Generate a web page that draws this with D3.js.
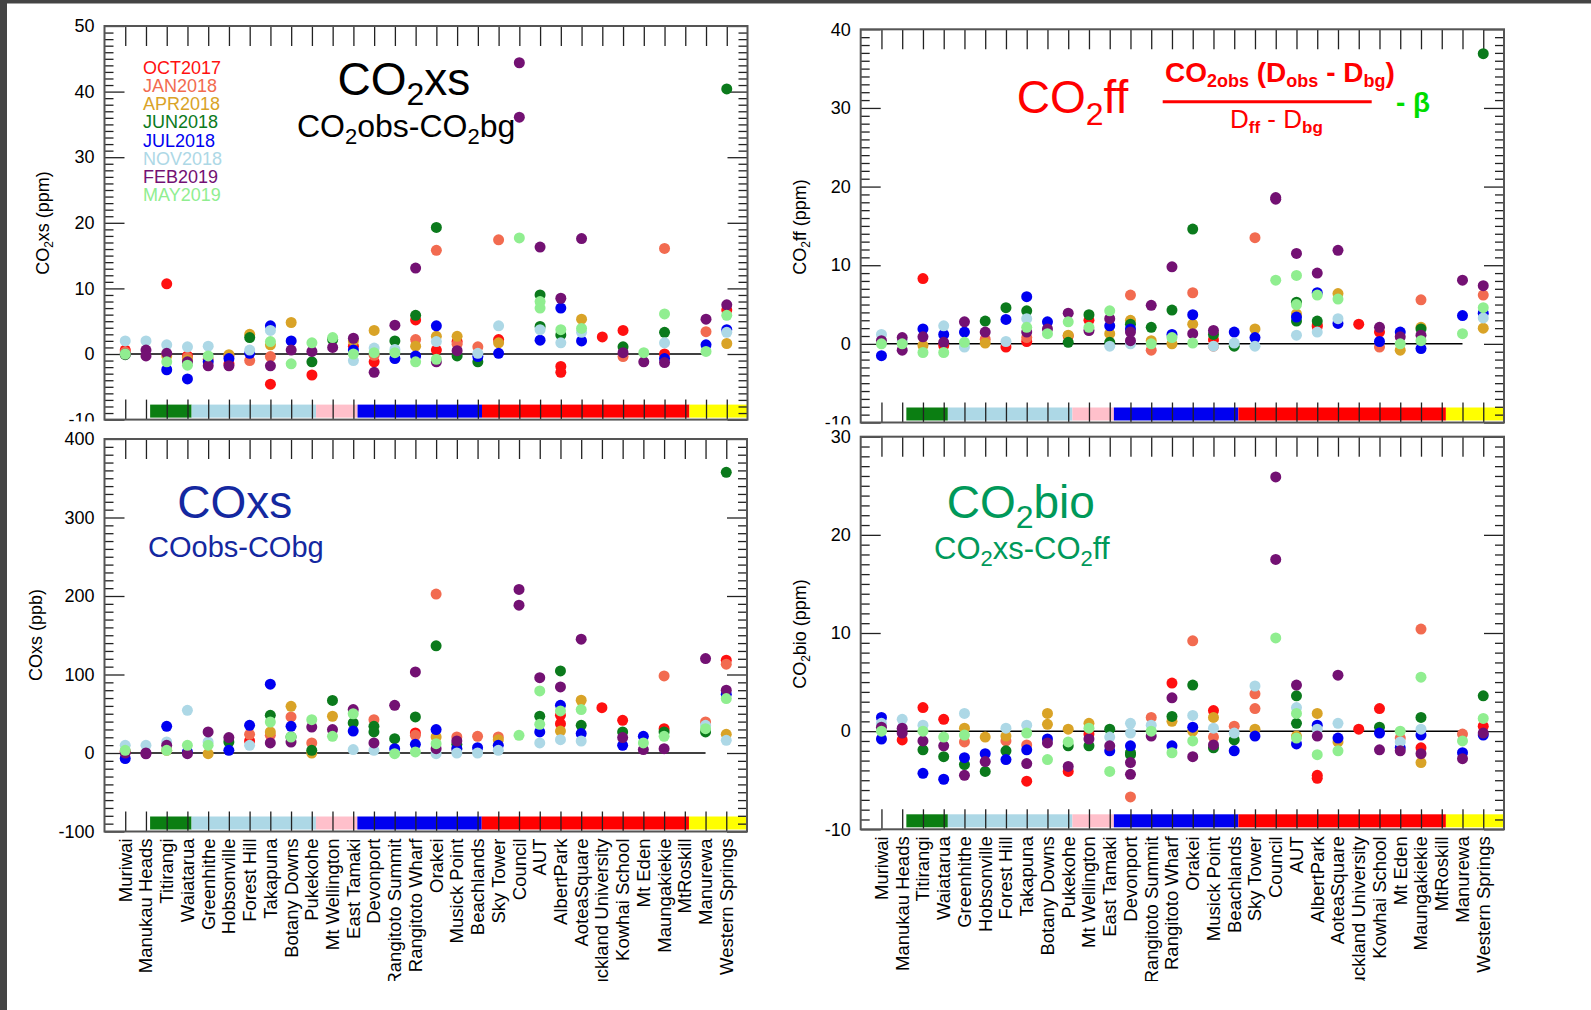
<!DOCTYPE html>
<html>
<head>
<meta charset="utf-8">
<script src="https://cdn.jsdelivr.net/npm/d3@7"></script>
<style>
  body { margin: 0; background: #fff; }
  svg { display: block; font-family: "Liberation Sans", Arial, Helvetica, sans-serif; }
</style>
</head>
<body>
<svg id="chart" width="1591" height="1010"></svg>
<script>
const _ = null;

const sites = [
  "Muriwai", "Manukau Heads", "Titirangi", "Waiatarua", "Greenhithe", "Hobsonville",
  "Forest Hill", "Takapuna", "Botany Downs", "Pukekohe", "Mt Wellington", "East Tamaki",
  "Devonport", "Rangitoto Summit", "Rangitoto Wharf", "Orakei", "Musick Point", "Beachlands",
  "Sky Tower", "Council", "AUT", "AlbertPark", "AoteaSquare", "Auckland University",
  "Kowhai School", "Mt Eden", "Maungakiekie", "MtRoskill", "Manurewa", "Western Springs"
];

const campaigns = ["OCT2017", "JAN2018", "APR2018", "JUN2018", "JUL2018", "NOV2018", "FEB2019", "MAY2019"];
const campaignColors = ["#ff1010", "#f26b50", "#d9a327", "#0b7a1c", "#0000f0", "#add8e6", "#731173", "#90ee90"];

// site groups (first and last site index) shown as the coloured strip
const siteGroups = [[2, 3], [4, 9], [10, 11], [12, 17], [18, 27], [28, 29]];
const groupColors = ["#0b7e12", "#add8e6", "#ffc0cb", "#0000f0", "#ff0000", "#ffff00"];

// CO2xs (ppm); a list in a cell = two samples in the same campaign
const co2xs = {
  OCT2017: [0.6,_,10.7,-0.3,_,-1.5,_,-4.6,_,-3.2, _,1.2,-1.2,_,5.2,0.6,1.9,_,2.2,_, _,[-1.9,-2.8],_,2.6,3.6,_,0.0,_,_,6.7],
  JAN2018: [0.3,_,_,-0.5,-0.8,-0.3,-1.0,-0.4,_,_, _,_,-0.2,_,2.2,15.8,1.5,1.1,17.4,_, _,_,_,_,-0.4,_,16.1,_,3.4,_],
  APR2018: [_,_,-0.3,-0.9,_,-0.1,3.0,1.4,4.8,_, _,2.0,3.6,_,1.2,2.7,2.7,_,1.7,_, _,_,5.3,_,_,_,_,_,_,1.6],
  JUN2018: [-0.1,_,_,_,_,_,2.5,_,_,-1.2, 2.2,_,_,2.0,5.9,19.3,-0.3,-1.2,_,_, [9.0,4.2],2.9,_,_,1.1,_,3.3,_,_,40.4],
  JUL2018: [_,_,-2.4,-3.8,-1.2,-0.7,0.1,4.3,2.0,_, _,0.6,_,-0.7,-0.3,4.3,_,-0.4,0.1,_, 2.1,7.0,2.0,_,_,_,-0.7,_,1.4,3.7],
  NOV2018: [2.0,2.0,1.4,1.1,1.2,_,0.6,3.6,_,_, _,-1.0,0.9,0.7,_,1.9,_,0.1,4.3,_, 3.7,1.7,3.3,_,_,_,1.7,_,_,3.3],
  FEB2019: [0.0,[0.6,-0.3],0.1,-1.2,-1.8,-1.8,_,-1.8,0.6,0.4, 1.0,2.4,-2.8,4.4,13.1,-1.2,0.5,_,_,[44.4,36.1], 16.3,8.5,17.6,_,0.2,-1.2,-1.3,_,5.3,7.5],
  MAY2019: [0.0,_,-1.2,-1.7,-0.3,_,_,1.9,-1.5,1.7, 2.5,0.0,0.2,0.2,-1.2,-0.8,_,_,_,17.7, [8.0,7.0],3.7,3.9,_,_,0.2,6.1,_,0.4,5.9]
};

// CO2ff (ppm)
const co2ff = {
  OCT2017: [_,_,8.3,-0.2,_,_,-0.4,0.3,_,1.0, 3.0,_,_,_,_,_,0.5,_,_,_, _,[2.4,2.2],_,2.5,1.5,_,_,_,_,_],
  JAN2018: [_,_,_,_,_,0.6,_,0.8,_,_, _,_,6.2,-0.8,_,6.5,-0.3,_,13.5,_, _,_,_,_,-0.4,_,5.6,_,_,6.2],
  APR2018: [_,_,-0.2,_,_,0.1,_,_,_,1.1, _,1.3,3.0,0.4,0.0,2.5,_,_,1.9,_, 3.8,_,6.4,_,_,-0.8,2.1,_,_,2.0],
  JUN2018: [_,_,_,_,_,2.9,4.6,4.2,_,0.2, 3.7,0.2,2.5,2.1,4.3,14.6,1.2,-0.3,_,_, [5.3,2.9],2.9,_,_,_,_,1.9,_,_,36.9],
  JUL2018: [-1.5,_,1.9,1.2,1.5,_,3.1,6.0,2.8,_, _,2.3,1.9,_,1.2,3.7,_,1.5,0.8,_, 3.4,6.5,2.6,_,0.3,1.5,-0.6,_,3.6,3.9],
  NOV2018: [1.2,0.3,_,2.3,-0.4,_,0.3,3.2,_,_, _,-0.3,0.0,_,_,_,-0.3,0.1,-0.3,_, 1.1,1.5,3.2,_,_,_,_,_,_,3.3],
  FEB2019: [0.4,[0.8,-0.8],0.9,0.2,2.8,1.5,_,1.5,1.9,3.9, 1.7,3.2,[1.5,0.4],4.9,9.8,1.3,1.7,_,_,[18.6,18.4], 11.5,9.0,11.9,_,2.1,0.9,1.1,_,8.1,7.4],
  MAY2019: [0.0,0.0,-1.1,-1.1,0.2,_,_,2.1,1.3,2.8, 2.1,4.2,_,0.0,0.8,0.1,_,_,_,8.1, [8.7,5.0],6.2,5.7,_,_,0.0,0.4,_,1.3,4.6]
};

// COxs (ppb)
const coxs = {
  OCT2017: [2,_,_,_,_,_,15.3,_,_,_, _,_,_,_,25.5,_,_,_,_,_, _,[48,37.4],_,57.8,41.7,_,31,_,_,118.2],
  JAN2018: [_,_,_,_,_,_,23.8,22.5,46,12.8, _,_,42.5,_,22.5,202.4,20.4,21.3,20.4,_, _,_,_,_,_,_,98.2,_,39.5,113.1],
  APR2018: [_,_,3.4,_,-0.9,_,_,26.8,59.5,0, 46.8,_,_,_,_,20.4,5.5,_,17,_, _,28,67.2,_,_,_,_,_,_,23.8],
  JUN2018: [_,_,_,_,_,14,_,48,20.4,3.4, 67,38.3,[34,26.8],18.3,46,136.5,11,_,_,_, 46.8,104.6,35.3,_,26.8,_,26.8,_,26.8,357.6],
  JUL2018: [-7,_,34,1.3,_,3.4,35.3,87.6,34,_, _,28,_,5.5,11,29.8,5.5,6.8,9.8,_, 26.8,60.8,24.7,_,9.8,21.3,_,_,_,74.8],
  NOV2018: [9.8,9.8,14,54.4,14,_,9.8,_,_,_, _,4.3,3.4,_,_,-0.9,0,0,3.4,_, 12.8,17,15.3,_,_,_,_,_,35.3,16.2],
  FEB2019: [0,[0,-1],9.8,-0.9,26.8,19.6,_,12.8,14,33, 29.8,55.3,12.8,60.8,103.3,5.5,15.3,_,_,[208.3,188.3], 96,84.2,145,_,19.6,4.3,5.5,_,120.3,80],
  MAY2019: [3.4,_,3.4,9.8,10,_,_,39.5,20.4,42.5, 21.3,50,_,-0.9,1.3,11.9,_,_,_,22.5, [79,36.6],53.6,55.3,_,_,12.8,21.3,_,31,69.3]
};

// CO2bio (ppm)
const co2bio = {
  OCT2017: [_,-0.9,2.4,1.2,_,_,_,-5.1,_,-4.1, -0.3,_,_,_,4.9,_,2.1,_,_,_, _,[-4.5,-4.8],_,0.2,2.3,_,-1.7,_,_,0.5],
  JAN2018: [_,_,_,_,-1.1,_,-1.0,-1.4,_,_, _,_,-6.7,1.4,_,9.2,-0.6,0.5,[3.8,2.3],_, _,_,_,_,_,-0.7,10.4,_,-0.3,_],
  APR2018: [_,_,_,_,0.3,-0.6,-0.5,_,[1.8,0.7],0.2, 0.8,_,_,_,1.0,0.0,1.4,_,0.2,_, -0.5,1.8,-1.1,_,_,_,-3.2,_,_,_],
  JUN2018: [_,_,-1.9,-2.6,-3.4,-4.1,-2.0,_,_,-1.5, -1.5,0.2,[-2.2,-2.4],_,1.5,4.7,-1.7,-0.9,_,_, [3.6,0.8],_,_,_,0.4,_,1.4,_,_,3.6],
  JUL2018: [[1.4,-0.8],_,-4.3,-4.9,-2.7,-2.3,-2.9,-1.9,-0.8,_, _,-2.0,-1.5,_,-1.5,0.4,_,-2.0,-0.5,_, -1.3,0.6,-0.7,_,-0.2,-1.7,-0.4,_,-2.2,-0.4],
  NOV2018: [0.8,1.2,0.6,_,1.8,_,0.3,0.6,_,_, _,-0.6,[0.8,-0.2],0.6,_,1.6,0.3,-0.2,4.6,_, 2.4,0.2,0.8,_,_,-1.1,0.2,_,_,_],
  FEB2019: [0.4,[0.3,-0.2],-1.0,-1.5,-4.5,-3.1,_,-3.3,-1.2,-3.6, -0.8,-1.5,[-3.2,-4.4],-0.5,3.4,-2.6,-1.4,_,_,[25.9,17.5], 4.7,-0.5,5.7,_,-1.9,-2.0,-2.3,_,-2.8,-0.2],
  MAY2019: [0.0,_,0.0,-0.6,-0.4,_,_,-0.2,-2.9,-1.1, 0.3,-4.1,_,0.0,-2.2,-1.0,_,_,_,9.5, [1.8,-0.7],-2.4,-2.0,_,_,0.0,5.5,_,-1.0,1.3]
};

const svg = d3.select("#chart");

// dark frame of the screenshot
svg.append("rect").attr("width", 1591).attr("height", 1010).attr("fill", "#444");
svg.append("rect").attr("x", 7).attr("y", 3.5).attr("width", 1584).attr("height", 1006.5).attr("fill", "#fff");

const defs = svg.append("defs");
defs.append("clipPath").attr("id", "labclip")
  .append("rect").attr("x", 0).attr("y", 0).attr("width", 1591).attr("height", 981);

// text with sub/superscript pieces: [text, fontSize, baselineOffset, weight]
function rich(parent, x, y, parts, attrs) {
  const t = parent.append("text").attr("x", x).attr("y", y).style("white-space", "pre");
  for (const k in attrs) t.attr(k, attrs[k]);
  let cur = 0;
  parts.forEach(([str, size, off = 0, weight]) => {
    const s = t.append("tspan").attr("dy", off - cur).text(str);
    if (size) s.attr("font-size", size);
    if (weight) s.attr("font-weight", weight);
    cur = off;
  });
  return t;
}

function drawPanel(p) {
  const g = svg.append("g");
  if (p.bg) {
    g.append("rect").attr("x", p.bg[0]).attr("y", p.bg[1]).attr("width", p.bg[2]).attr("height", p.bg[3]).attr("fill", "#fff");
  }
  const x = d3.scaleLinear().domain([0, sites.length + 1]).range([p.x0, p.x1]);
  const y = d3.scaleLinear().domain(p.yDomain).range([p.y1, p.y0]);
  const siteTicks = d3.range(1, sites.length + 1);

  // coloured site-type strip
  siteGroups.forEach(([a, b], k) => {
    const xa = x(a + 0.2);
    const xb = k === siteGroups.length - 1 ? x(sites.length + 1) : x(b + 1.2);
    g.append("rect")
      .attr("x", xa).attr("y", p.y1 - 15)
      .attr("width", xb - xa).attr("height", 13)
      .attr("fill", groupColors[k]);
  });

  const majors = d3.range(p.yDomain[0], p.yDomain[1] + 1e-9, p.major);
  const minors = d3.range(p.yDomain[0], p.yDomain[1] + 1e-9, p.minor)
    .filter((v) => !majors.some((m) => Math.abs(m - v) < 1e-9));

  const axes = [
    [d3.axisLeft(y).tickValues(majors).tickSize(-20).tickPadding(10).tickFormat((d) => String(d)), `translate(${p.x0},0)`],
    [d3.axisLeft(y).tickValues(minors).tickSize(-9).tickFormat(""), `translate(${p.x0},0)`],
    [d3.axisRight(y).tickValues(majors).tickSize(-20).tickFormat(""), `translate(${p.x1},0)`],
    [d3.axisRight(y).tickValues(minors).tickSize(-9).tickFormat(""), `translate(${p.x1},0)`],
    [d3.axisTop(x).tickValues(siteTicks).tickSize(-20).tickFormat(""), `translate(0,${p.y0})`],
    [d3.axisBottom(x).tickValues(siteTicks).tickSize(-20).tickFormat(""), `translate(0,${p.y1})`],
  ];
  axes.forEach(([axis, tr]) => {
    const a = g.append("g").attr("transform", tr).call(axis);
    a.select(".domain").remove();
    a.attr("font-size", 18).attr("font-family", null);
    a.selectAll("line").attr("stroke", "#222").attr("stroke-width", 1.3);
  });

  // zero line
  g.append("line")
    .attr("x1", x(1)).attr("x2", x(29))
    .attr("y1", y(0)).attr("y2", y(0))
    .attr("stroke", "#000").attr("stroke-width", 1.5);

  g.append("rect")
    .attr("x", p.x0).attr("y", p.y0)
    .attr("width", p.x1 - p.x0).attr("height", p.y1 - p.y0)
    .attr("fill", "none").attr("stroke", "#555").attr("stroke-width", 2);

  // points
  campaigns.forEach((c, k) => {
    const pts = [];
    p.values[c].forEach((v, i) => {
      if (v == null) return;
      [].concat(v).forEach((val) => pts.push({ i, val }));
    });
    g.append("g").selectAll("circle").data(pts).join("circle")
      .attr("cx", (d) => x(d.i + 1))
      .attr("cy", (d) => y(d.val))
      .attr("r", 5.5)
      .attr("fill", campaignColors[k]);
  });

  // y axis title
  rich(g, 0, 0, p.yTitle, {
    transform: `translate(${p.yTitleX},${p.yTitleY}) rotate(-90)`,
    "text-anchor": "middle", "font-size": 18, fill: "#000",
  });

  // site names below the bottom panels
  if (p.siteLabels) {
    g.append("g").attr("clip-path", "url(#labclip)")
      .selectAll("text").data(sites).join("text")
      .attr("transform", (d, i) => `translate(${x(i + 1) + 6.5},${p.y1 + 7}) rotate(-90)`)
      .attr("text-anchor", "end")
      .attr("font-size", 18.5)
      .text((d) => d);
  }
  return g;
}

// top-left: CO2xs
const p1 = drawPanel({
  x0: 104.5, x1: 747.5, y0: 26, y1: 419.6, yDomain: [-10, 50], major: 10, minor: 1,
  values: co2xs, yTitle: [["CO"], ["2", 12, 4], ["xs (ppm)", null, 0]], yTitleX: 49, yTitleY: 223,
});
p1.append("g").selectAll("text").data(campaigns).join("text")
  .attr("x", 143).attr("y", (d, i) => 74 + i * 18.14)
  .attr("font-size", 18).attr("fill", (d, i) => campaignColors[i])
  .text((d) => d);
rich(p1, 337.5, 95, [["CO"], ["2", 32, 10], ["xs", null, 0]], { "font-size": 46, fill: "#000" });
rich(p1, 297, 136.7, [["CO"], ["2", 22, 7], ["obs-CO", null, 0], ["2", 22, 7], ["bg", null, 0]], { "font-size": 32, fill: "#000" });

// top-right: CO2ff
const p2 = drawPanel({
  x0: 860.7, x1: 1504, y0: 29.3, y1: 422.5, yDomain: [-10, 40], major: 10, minor: 1,
  values: co2ff, yTitle: [["CO"], ["2", 12, 4], ["ff (ppm)", null, 0]], yTitleX: 806, yTitleY: 227,
});
rich(p2, 1016.7, 113.3, [["CO"], ["2", 32, 12], ["ff", null, 0]], { "font-size": 46, fill: "#ff0000" });
rich(p2, 1165, 81.7, [
  ["CO"], ["2obs", 18, 5], [" (D", null, 0], ["obs", 18, 5], [" - D", null, 0], ["bg", 18, 5], [")", null, 0],
], { "font-size": 28, "font-weight": "bold", fill: "#ff0000" });
p2.append("line").attr("x1", 1162.7).attr("x2", 1371.7).attr("y1", 101.7).attr("y2", 101.7)
  .attr("stroke", "#ff0000").attr("stroke-width", 3);
rich(p2, 1230, 128, [["D"], ["ff", 17, 5, "bold"], [" - D", null, 0], ["bg", 17, 5, "bold"]],
  { "font-size": 26, fill: "#ff0000" });
p2.append("text").attr("x", 1396).attr("y", 111.7).attr("font-size", 28).attr("font-weight", "bold")
  .attr("fill", "#00dd00").style("white-space", "pre").text("- β");

// bottom-left: COxs
const p3 = drawPanel({
  bg: [7, 421.5, 793, 600],
  x0: 104.5, x1: 747, y0: 439, y1: 831.5, yDomain: [-100, 400], major: 100, minor: 10,
  values: coxs, yTitle: [["COxs (ppb)"]], yTitleX: 42, yTitleY: 635, siteLabels: true,
});
p3.append("text").attr("x", 177.3).attr("y", 518.3).attr("font-size", 46).attr("fill", "#1428a0").text("COxs");
p3.append("text").attr("x", 148).attr("y", 556.7).attr("font-size", 29).attr("fill", "#1428a0").text("COobs-CObg");

// bottom-right: CO2bio
const p4 = drawPanel({
  bg: [800, 424.5, 791, 600],
  x0: 860.7, x1: 1504, y0: 436.7, y1: 829.3, yDomain: [-10, 30], major: 10, minor: 1,
  values: co2bio, yTitle: [["CO"], ["2", 12, 4], ["bio (ppm)", null, 0]], yTitleX: 806, yTitleY: 634, siteLabels: true,
});
rich(p4, 946.7, 518.3, [["CO"], ["2", 32, 10], ["bio", null, 0]], { "font-size": 46, fill: "#00995a" });
rich(p4, 934, 559.3, [["CO"], ["2", 22, 7], ["xs-CO", null, 0], ["2", 22, 7], ["ff", null, 0]], { "font-size": 31, fill: "#00995a" });
</script>
</body>
</html>
